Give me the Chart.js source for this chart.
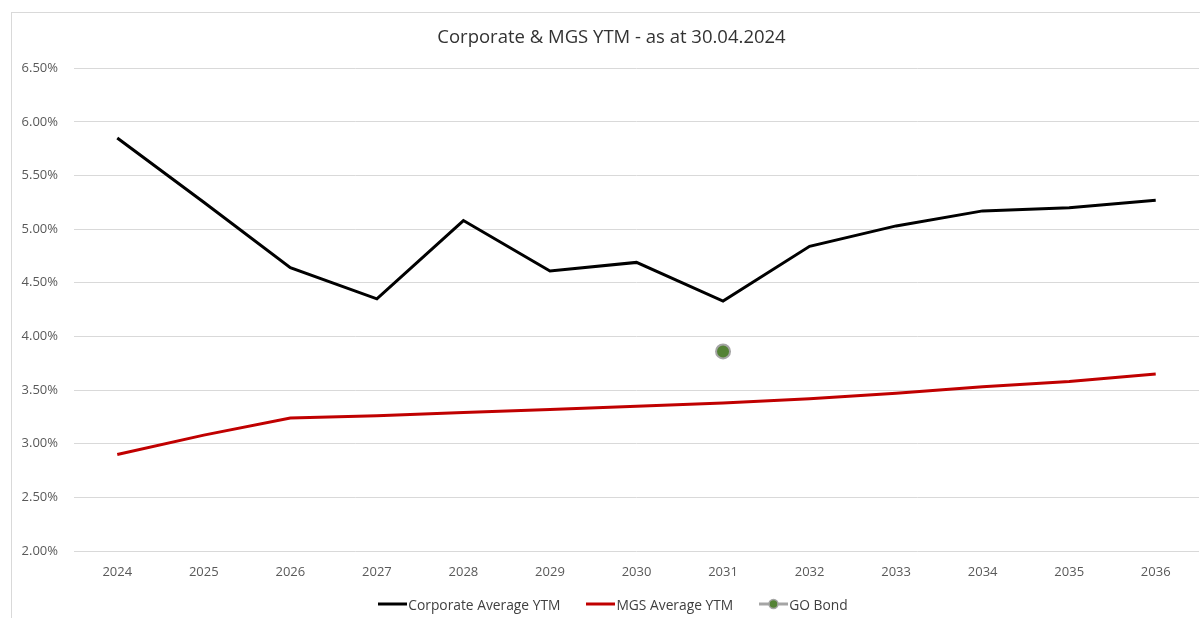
<!DOCTYPE html>
<html>
<head>
<meta charset="utf-8">
<script src="https://cdn.jsdelivr.net/npm/chart.js@4/dist/chart.umd.min.js"></script>
<style>
html,body{margin:0;padding:0;background:#fff;}
#wrap{position:relative;width:1200px;height:618px;overflow:hidden;}
#frame{position:absolute;left:11px;top:12px;width:1200px;height:620px;border-left:1px solid #d9d9d9;border-top:1px solid #d9d9d9;box-sizing:border-box;}
canvas{position:absolute;left:0;top:0;}
#legend{position:absolute;left:0;width:1226px;top:594px;height:20px;display:flex;justify-content:center;align-items:center;font-family:'Open Sans','Noto Sans',sans-serif;font-size:13.8px;color:#404040;}
#legend .item{display:flex;align-items:center;margin:0 13px;white-space:nowrap;}
#legend canvas{position:static;margin-right:1px;}
</style>
</head>
<body>
<div id="wrap"><div id="frame"></div><canvas id="c" width="1200" height="618"></canvas><div id="legend"></div></div>
<script>
const years = ['2024','2025','2026','2027','2028','2029','2030','2031','2032','2033','2034','2035','2036'];
const corporateYTM = [5.85, 5.25, 4.64, 4.35, 5.08, 4.61, 4.69, 4.33, 4.84, 5.03, 5.17, 5.20, 5.27];
const mgsYTM = [2.90, 3.08, 3.24, 3.26, 3.29, 3.32, 3.35, 3.38, 3.42, 3.47, 3.53, 3.58, 3.65];
const goBond = [null, null, null, null, null, null, null, 3.86, null, null, null, null, null];
const yTicks = [2.0, 2.5, 3.0, 3.5, 4.0, 4.5, 5.0, 5.5, 6.0, 6.5];

const FONT = "'Open Sans', 'Noto Sans', sans-serif";

function legendIcon(color, marker) {
  const cv = document.createElement('canvas');
  cv.width = 29; cv.height = 14;
  const g = cv.getContext('2d');
  g.strokeStyle = color; g.lineWidth = 3;
  g.beginPath(); g.moveTo(0, 7); g.lineTo(29, 7); g.stroke();
  if (marker) {
    g.beginPath(); g.arc(14.5, 7, 4.5, 0, Math.PI * 2);
    g.fillStyle = '#548235'; g.fill();
    g.lineWidth = 1.5; g.strokeStyle = '#a5a5a5'; g.stroke();
  }
  return cv;
}

const shiftTitle = {
  id: 'shiftTitle',
  afterLayout(chart) {
    const t = chart.titleBlock;
    if (t) { t.left += 12; t.right += 12; }
  }
};

const chart = new Chart(document.getElementById('c'), {
  type: 'line',
  data: {
    labels: years,
    datasets: [
      { label: 'Corporate Average YTM', data: corporateYTM, borderColor: '#000000', backgroundColor: '#000000', borderWidth: 3, pointRadius: 0, tension: 0 },
      { label: 'MGS Average YTM', data: mgsYTM, borderColor: '#c00000', backgroundColor: '#c00000', borderWidth: 3, pointRadius: 0, tension: 0 },
      { label: 'GO Bond', data: goBond, borderColor: '#a5a5a5', backgroundColor: '#548235', showLine: false, pointRadius: 7, pointBorderWidth: 2, pointBorderColor: '#a5a5a5', pointBackgroundColor: '#548235' }
    ]
  },
  plugins: [shiftTitle],
  options: {
    responsive: false,
    animation: false,
    layout: { autoPadding: false, padding: { left: 0, right: 1, top: 10, bottom: 28 } },
    plugins: {
      title: { display: true, text: 'Corporate & MGS YTM - as at 30.04.2024', color: '#333333', font: { family: FONT, size: 18.5, weight: 'normal' }, padding: { top: 17, bottom: 19 } },
      legend: { display: false },
      tooltip: { enabled: false }
    },
    scales: {
      x: {
        offset: true,
        afterFit: (s) => { s.height = 39; },
        grid: { display: false, drawTicks: true, tickLength: 12, tickColor: 'rgba(0,0,0,0)' },
        border: { display: false },
        ticks: { color: '#595959', font: { family: FONT, size: 13 }, padding: 1 }
      },
      y: {
        min: 2, max: 6.5,
        afterFit: (s) => { s.width = 74; },
        afterBuildTicks: (s) => { s.ticks = yTicks.map(v => ({ value: v })); },
        grid: { color: '#d9d9d9', drawTicks: false, lineWidth: 1 },
        border: { display: false },
        ticks: { color: '#595959', font: { family: FONT, size: 13 }, padding: 16, callback: (v) => Number(v).toFixed(2) + '%' }
      }
    }
  }
});

const iconDefs = [['#000000', false], ['#c00000', false], ['#a5a5a5', true]];
const legendEl = document.getElementById('legend');
chart.data.datasets.forEach((ds, i) => {
  const item = document.createElement('div');
  item.className = 'item';
  item.appendChild(legendIcon(iconDefs[i][0], iconDefs[i][1]));
  const span = document.createElement('span');
  span.textContent = ds.label;
  item.appendChild(span);
  legendEl.appendChild(item);
});
</script>
</body>
</html>
